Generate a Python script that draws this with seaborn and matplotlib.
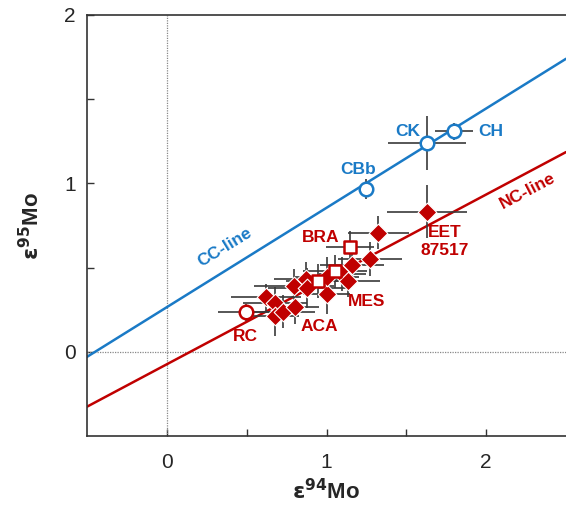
import numpy as np
import pandas as pd
import matplotlib
matplotlib.use("Agg")
import matplotlib.pyplot as plt
import seaborn as sns

# ---- data ----
# Carbonaceous chondrites (blue open circles)
cc_names = ["CH", "CK", "CBb"]
cc_x = [1.80, 1.63, 1.247]
cc_y = [1.31, 1.24, 0.966]
cc_xerr = [0.12, 0.245, 0.03]
cc_yerr = [0.05, 0.16, 0.06]

# RC (red open circle)
rc_x = [0.495]
rc_y = [0.235]
rc_xerr = [0.175]
rc_yerr = [0.05]

# BRA (red open squares)
sq_x = [0.945, 1.053, 1.15]
sq_y = [0.42, 0.477, 0.62]
sq_xerr = [0.2, 0.2, 0.15]
sq_yerr = [0.1, 0.1, 0.1]

# NC samples (red diamonds)
dm_x = [0.62, 0.68, 0.68, 0.726, 0.795, 0.80, 0.871, 0.881, 1.00, 1.005,
        1.10, 1.135, 1.16, 1.274, 1.325, 1.63]
dm_y = [0.325, 0.287, 0.212, 0.239, 0.39, 0.265, 0.433, 0.378, 0.343, 0.442,
        0.46, 0.423, 0.515, 0.55, 0.708, 0.833]
dm_xerr = [0.22, 0.2, 0.15, 0.2, 0.25, 0.15, 0.2, 0.25, 0.15, 0.2,
           0.15, 0.2, 0.2, 0.2, 0.19, 0.25]
dm_yerr = [0.08, 0.1, 0.12, 0.1, 0.1, 0.1, 0.1, 0.12, 0.12, 0.12,
           0.1, 0.1, 0.12, 0.1, 0.1, 0.16]

# reference lines (slope, intercept)
cc_line = (0.59, 0.265)
nc_line = (0.504, -0.074)

BLUE = "#1a7ac6"
RED = "#c00000"
ERR = "#3a3a3a"

sns.set_theme(style="ticks")
plt.rcParams["font.family"] = ["Liberation Sans", "DejaVu Sans"]

fig = plt.figure(figsize=(5.66, 5.07), dpi=100)
ax = fig.add_axes([87/566, 71/507, 1 - 87/566, (436-15)/507])

ax.axvline(0, color="#888888", lw=0.9, ls=(0, (1, 1)), zorder=1)
ax.axhline(0, color="#888888", lw=0.9, ls=(0, (1, 1)), zorder=1)

xs = np.array([-0.5, 2.5])
line_df = pd.DataFrame({
    "x": np.concatenate([xs, xs]),
    "y": np.concatenate([cc_line[0]*xs + cc_line[1], nc_line[0]*xs + nc_line[1]]),
    "line": ["CC"]*2 + ["NC"]*2,
})
sns.lineplot(data=line_df, x="x", y="y", hue="line", palette={"CC": BLUE, "NC": RED},
             lw=1.8, legend=False, ax=ax, zorder=2)

def errs(x, y, xe, ye):
    ax.errorbar(x, y, xerr=xe, yerr=ye, fmt="none", ecolor=ERR, elinewidth=1.2,
                capsize=0, zorder=3)

errs(dm_x, dm_y, dm_xerr, dm_yerr)
errs(sq_x, sq_y, sq_xerr, sq_yerr)
errs(cc_x, cc_y, cc_xerr, cc_yerr)
errs(rc_x, rc_y, rc_xerr, rc_yerr)

sns.scatterplot(x=dm_x, y=dm_y, marker="D", s=90, color=RED, edgecolor="white",
                linewidth=0.8, ax=ax, zorder=4)
sns.scatterplot(x=sq_x, y=sq_y, marker="s", s=80, color="white", edgecolor=RED,
                linewidth=1.8, ax=ax, zorder=5)
sns.scatterplot(x=cc_x, y=cc_y, marker="o", s=95, color="white", edgecolor=BLUE,
                linewidth=1.8, ax=ax, zorder=5)
sns.scatterplot(x=rc_x, y=rc_y, marker="o", s=95, color="white", edgecolor=RED,
                linewidth=1.8, ax=ax, zorder=5)

ax.set_xlim(-0.5, 2.5)
ax.set_ylim(-0.5, 2.0)
ax.set_xticks([0, 1, 2])
ax.set_yticks([0, 1, 2])
ax.set_xticks([0.5, 1.5], minor=True)
ax.set_yticks([0.5, 1.5], minor=True)
ax.tick_params(which="both", direction="in", length=5, width=1, color="#333333",
               labelsize=15, pad=12)
ax.tick_params(axis="y", pad=8)
for s in ["left", "bottom", "top"]:
    ax.spines[s].set_linewidth(1.2)
    ax.spines[s].set_color("#333333")
ax.spines["right"].set_visible(False)

ax.set_xlabel(r"$\mathbf{\varepsilon}^{\mathbf{94}}$Mo", fontsize=16, fontweight="bold", labelpad=5)
ax.set_ylabel(r"$\mathbf{\varepsilon}^{\mathbf{95}}$Mo", fontsize=16, fontweight="bold", labelpad=14)

lab = dict(fontsize=12.5, fontweight="bold", ha="center", va="center")
ax.text(2.03, 1.31, "CH", color=BLUE, **lab)
ax.text(1.51, 1.31, "CK", color=BLUE, **lab)
ax.text(1.20, 1.08, "CBb", color=BLUE, **lab)
ax.text(0.36, 0.62, "CC-line", color=BLUE, rotation=31.5, **lab)
ax.text(2.26, 0.955, "NC-line", color=RED, rotation=27.7, **lab)
ax.text(0.966, 0.677, "BRA", color=RED, **lab)
ax.text(1.25, 0.297, "MES", color=RED, **lab)
ax.text(0.955, 0.148, "ACA", color=RED, **lab)
ax.text(0.495, 0.089, "RC", color=RED, **lab)
ax.text(1.74, 0.655, "EET\n87517", color=RED, linespacing=1.3, **lab)

fig.savefig("out.png", dpi=100)
